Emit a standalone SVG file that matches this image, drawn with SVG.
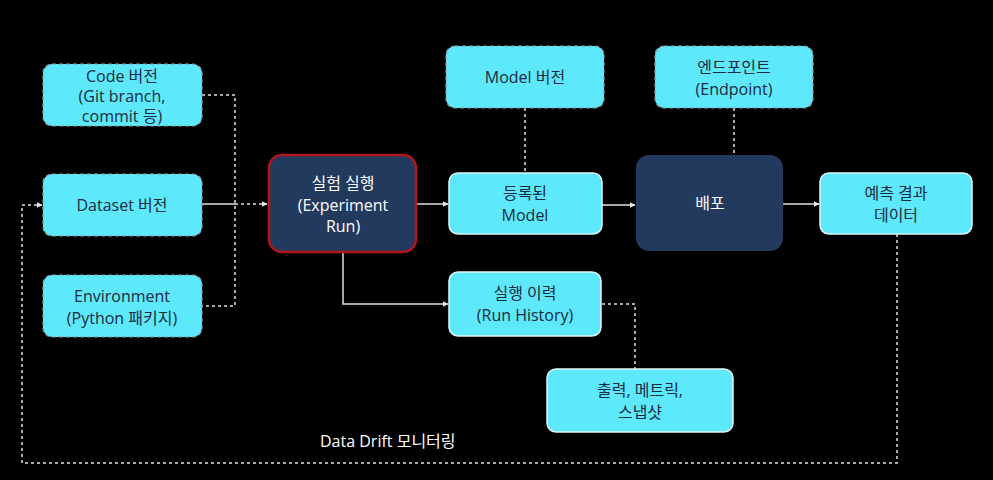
<svg xmlns="http://www.w3.org/2000/svg" width="993" height="480" viewBox="0 0 993 480">
<defs>
<marker id="ah" viewBox="0 0 10 10" refX="9" refY="5" markerWidth="6" markerHeight="6" markerUnits="userSpaceOnUse" orient="auto"><path d="M0,0 L10,5 L0,10 z" fill="#e6e6e6"/></marker>
<style>
.c{fill:#5ee8fb;stroke:#dff6fa;stroke-width:1.5}
.cd{fill:#5ee8fb;stroke:#8a9aa0;stroke-width:1.2;stroke-dasharray:4 3}
.d{fill:#223a5e}
.t{font-family:"Open Sans","Noto Sans CJK KR",sans-serif;font-size:16px;fill:#1a2b40;text-anchor:middle}
.tw{font-family:"Open Sans","Noto Sans CJK KR",sans-serif;font-size:16px;fill:#ffffff;text-anchor:middle}
.s{fill:none;stroke:#e0e0e0;stroke-width:1.5}
.ds{fill:none;stroke:#e0e0e0;stroke-width:1.5;stroke-dasharray:3 3}
</style>
</defs>
<rect width="993" height="480" fill="#000"/>
<g id="connectors">
<path class="ds" d="M202,95 H235 V306 H202"/>
<path class="ds" d="M235,204 H267" marker-end="url(#ah)"/>
<path class="s" d="M202,204 H235"/>
<path class="s" d="M416,204 H448" marker-end="url(#ah)"/>
<path class="s" d="M602,205 H635" marker-end="url(#ah)"/>
<path class="s" d="M783,204 H819" marker-end="url(#ah)"/>
<path class="s" d="M343,252 V304 H448" marker-end="url(#ah)"/>
<path class="ds" d="M525,108 V173"/>
<path class="ds" d="M734,108 V155"/>
<path class="ds" d="M602,304 H635 V369"/>
<path class="ds" d="M897,234 V463 H22 V205 H42" marker-end="url(#ah)"/>
</g>
<g id="code"><rect class="cd" x="43" y="64" width="159" height="62" rx="9"/>
<text class="t" x="122" y="82">Code 버전</text><text class="t" x="122" y="102">(Git branch,</text><text class="t" x="122" y="122">commit 등)</text></g>
<g id="dataset"><rect class="cd" x="43" y="174" width="159" height="62" rx="9"/>
<text class="t" x="122" y="211">Dataset 버전</text></g>
<g id="env"><rect class="cd" x="43" y="275" width="159" height="62" rx="9"/>
<text class="t" x="122" y="302">Environment</text><text class="t" x="122" y="324">(Python 패키지)</text></g>
<g id="run"><rect x="269" y="155" width="147" height="97" rx="13" fill="#223a5e" stroke="#b3161a" stroke-width="2.5"/>
<text class="tw" x="343" y="189">실험 실행</text><text class="tw" x="343" y="211">(Experiment</text><text class="tw" x="343" y="232">Run)</text></g>
<g id="modelver"><rect class="cd" x="446" y="46" width="158" height="62" rx="9"/>
<text class="t" x="525" y="83">Model 버전</text></g>
<g id="endpoint"><rect class="cd" x="655" y="46" width="158" height="62" rx="9"/>
<text class="t" x="734" y="73">엔드포인트</text><text class="t" x="734" y="95">(Endpoint)</text></g>
<g id="registered"><rect class="c" x="449" y="173" width="153" height="61" rx="9"/>
<text class="t" x="525" y="199">등록된</text><text class="t" x="525" y="221">Model</text></g>
<g id="deploy"><rect class="d" x="636" y="155" width="147" height="96" rx="13"/>
<text class="tw" x="710" y="209">배포</text></g>
<g id="predict"><rect class="c" x="820" y="173" width="152" height="61" rx="9"/>
<text class="t" x="896" y="199">예측 결과</text><text class="t" x="896" y="221">데이터</text></g>
<g id="history"><rect class="c" x="449" y="272" width="152" height="64" rx="9"/>
<text class="t" x="525" y="299">실행 이력</text><text class="t" x="525" y="321">(Run History)</text></g>
<g id="outputs"><rect class="c" x="547" y="369" width="186" height="63" rx="9"/>
<text class="t" x="640" y="396">출력, 메트릭,</text><text class="t" x="640" y="418">스냅샷</text></g>
<text x="320" y="447" font-family="Open Sans, Noto Sans CJK KR, sans-serif" font-size="16" fill="#ffffff">Data Drift 모니터링</text>
</svg>
